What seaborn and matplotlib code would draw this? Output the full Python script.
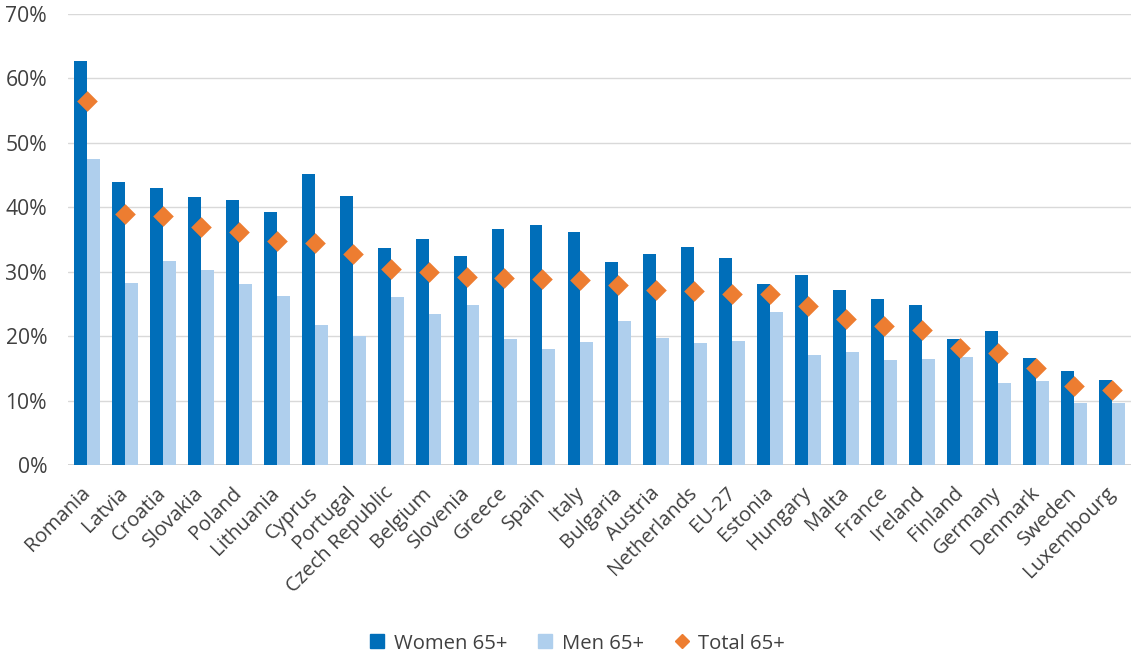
import numpy as np
import pandas as pd
import matplotlib
matplotlib.use("Agg")
import matplotlib.pyplot as plt
from matplotlib.lines import Line2D
from matplotlib.ticker import PercentFormatter
import seaborn as sns

countries = ["Romania", "Latvia", "Croatia", "Slovakia", "Poland", "Lithuania", "Cyprus",
             "Portugal", "Czech Republic", "Belgium", "Slovenia", "Greece", "Spain", "Italy",
             "Bulgaria", "Austria", "Netherlands", "EU-27", "Estonia", "Hungary", "Malta",
             "France", "Ireland", "Finland", "Germany", "Denmark", "Sweden", "Luxembourg"]
women = [62.7, 44.0, 43.0, 41.6, 41.1, 39.2, 45.1, 41.7, 33.7, 35.1, 32.5, 36.7, 37.3, 36.2,
         31.5, 32.7, 33.8, 32.2, 28.1, 29.5, 27.2, 25.7, 24.9, 19.5, 20.8, 16.6, 14.6, 13.2]
men = [47.5, 28.3, 31.7, 30.3, 28.1, 26.2, 21.8, 20.1, 26.1, 23.4, 24.8, 19.5, 18.0, 19.1,
       22.4, 19.7, 19.0, 19.2, 23.8, 17.0, 17.5, 16.3, 16.5, 16.7, 12.8, 13.0, 9.7, 9.6]
total = [56.5, 38.9, 38.6, 37.0, 36.1, 34.8, 34.4, 32.7, 30.5, 29.9, 29.2, 29.1, 28.8, 28.7,
         28.0, 27.1, 27.0, 26.6, 26.6, 24.7, 22.7, 21.5, 20.9, 18.2, 17.4, 15.0, 12.3, 11.6]
series_names = ["Women 65+", "Men 65+", "Total 65+"]

C_WOMEN = "#006EB9"
C_MEN = "#AFCFED"
C_TOTAL = "#ED7D31"
TEXT = "#404040"
FS = 14.6

sns.set_theme(style="white")
plt.rcParams["font.family"] = ["Open Sans", "DejaVu Sans"]

bars = pd.DataFrame({
    "country": countries * 2,
    "value": np.array(women + men) / 100.0,
    "group": [series_names[0]] * len(countries) + [series_names[1]] * len(countries),
})

fig = plt.figure(figsize=(11.32, 6.58), dpi=100)
ax = fig.add_axes([0.060, 0.2933, 0.939, 0.6854])

sns.barplot(data=bars, x="country", y="value", hue="group", order=countries,
            palette=[C_WOMEN, C_MEN], width=0.68, gap=0, saturation=1,
            linewidth=0, ax=ax, legend=False, zorder=3)
sns.stripplot(x=countries, y=np.array(total) / 100.0, order=countries, jitter=False,
              marker="D", size=10.5, color=C_TOTAL, linewidth=0, ax=ax, zorder=4)

ax.set_xlim(-0.5, len(countries) - 0.5)
ax.set_ylim(0, 0.70)
ax.set_yticks(np.arange(0, 0.71, 0.10))
ax.yaxis.set_major_formatter(PercentFormatter(1.0, decimals=0))
ax.grid(axis="y", color="#D9D9D9", linewidth=1.0, zorder=0)
ax.set_axisbelow(True)
for s in ax.spines.values():
    s.set_visible(False)
ax.axhline(0, color="#D0D0D0", linewidth=1.3, zorder=2)
ax.set_xlabel("")
ax.set_ylabel("")
ax.tick_params(axis="y", length=0, pad=15, labelsize=FS + 0.6, labelcolor=TEXT)
ax.tick_params(axis="x", length=0, pad=18, labelsize=FS, labelcolor=TEXT)
ax.set_xticks(range(len(countries)))
ax.set_xticklabels(countries, rotation=45, ha="right", va="center", rotation_mode="anchor")

handles = [
    Line2D([], [], marker="s", linestyle="none", markersize=9.5, color=C_WOMEN),
    Line2D([], [], marker="s", linestyle="none", markersize=9.5, color=C_MEN),
    Line2D([], [], marker="D", linestyle="none", markersize=7, color=C_TOTAL),
]
fig.legend(handles, series_names, loc="center", bbox_to_anchor=(0.509, 0.022), ncol=3,
           frameon=False, fontsize=FS, labelcolor=TEXT, handletextpad=0.3,
           columnspacing=1.4, handlelength=1.0)

fig.savefig("out.png", dpi=100, facecolor="white")
